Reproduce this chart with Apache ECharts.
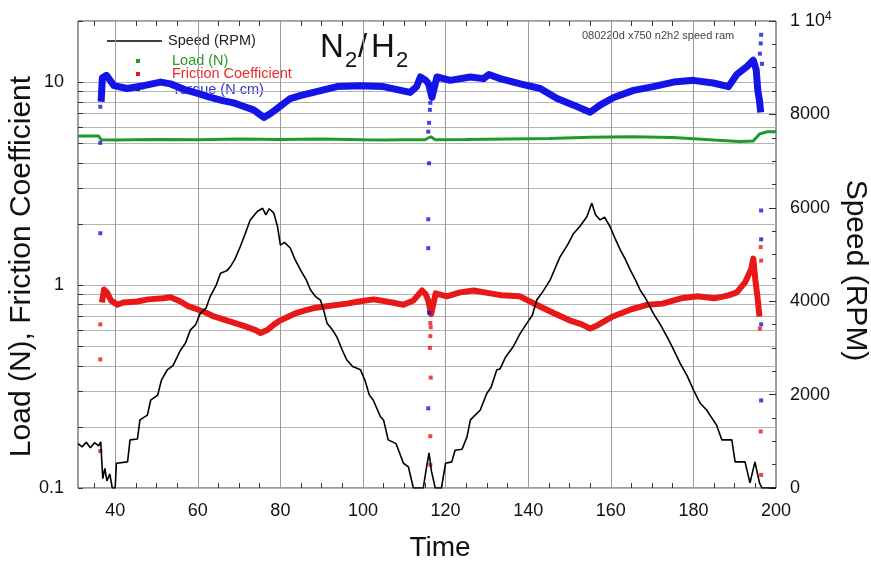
<!DOCTYPE html>
<html><head><meta charset="utf-8">
<script src="https://cdn.jsdelivr.net/npm/echarts@6/dist/echarts.min.js"></script>
<style>html,body{margin:0;padding:0;background:#fff}#c{width:871px;height:564px}</style>
</head><body><div id="c"></div>
<script>
// ---- data ----
const speedT = [31,32,33,34,35,36,36.5,37,37.5,38,38.7,39.3,40,40.3,43,43.6,45.4,46,47.8,48.6,50.3,51.2,52.6,54,55.8,57,58.2,59.5,60.6,62,63,64.5,65.5,67,67.9,69,70.3,71.5,72.7,74.4,75.7,76.5,77.3,78.4,79.3,80,81,82.4,83.5,85,86.3,87.3,88.5,89.7,90.5,91.3,92.5,93.7,95,96.1,97.5,99.4,100.5,101.5,102.5,104.2,105,106.1,108,109.8,111,112.2,114.6,115.3,116,116.6,117.5,119,120,121.5,122.3,124,125.2,126,128.4,130,131,132.4,133.2,134.5,136.4,138,139.7,141,142.1,143.5,145.3,146.5,147.7,149.5,151,152.5,154.2,155.4,156.3,157.4,158.5,159.8,161,162.3,163.5,164.7,166,167.1,168.5,170.3,172,173.6,175,176.8,178.5,180,181.6,183.2,184,185.6,186.9,188,189.3,190.1,192.5,193.7,194.9,196,196.6,200];
const speedRPM = [950,880,980,860,970,900,990,200,420,150,300,0,0,530,560,1030,1050,1460,1560,1880,1990,2310,2530,2620,2950,3100,3380,3500,3740,3850,4100,4350,4600,4650,4740,4900,5170,5450,5740,5920,5990,5850,5980,5890,5600,5200,5260,5140,4900,4650,4450,4240,4100,4025,3800,3530,3400,3230,2950,2740,2600,2530,2300,2000,1880,1530,1450,1030,950,530,450,0,0,400,750,350,0,0,530,560,810,830,1100,1460,1670,2030,2150,2530,2550,2800,3030,3300,3530,3700,4030,4200,4450,4700,4950,5200,5450,5600,5810,6100,5850,5740,5800,5600,5350,5100,4900,4670,4450,4240,4050,3740,3500,3240,3000,2670,2400,2100,1820,1670,1560,1350,1030,1030,1030,560,560,110,560,110,0,0];

const loadT = [31,36,36.6,40,50,60,70,80,90,100,105,110,115,116.4,117.5,125,135,145,155,165,175,185,191,194.5,196,198,200];
const loadN = [5.42,5.42,5.2,5.18,5.22,5.2,5.25,5.22,5.25,5.2,5.18,5.2,5.2,5.38,5.2,5.22,5.25,5.28,5.35,5.38,5.33,5.18,5.1,5.12,5.55,5.7,5.7];

const frictionT = [36.8,37.3,38,39,40.5,42,45.3,48,51.7,53.4,55.8,57.5,59.8,62,63.9,66,67.9,70,72,74,75.2,76.8,78.5,80,82,84,86,88.1,92.1,96.1,99,102.6,104.2,107,109.8,112.2,114.3,115.2,115.8,116.5,117.6,120.3,123.5,126.8,130.8,133.5,138,142,146,150,153,155,156.5,160.5,165,169,172.5,177,181,185,188.5,190.5,192.5,194,194.5,195,195.5,196];
const frictionV = [0.82,0.95,0.92,0.84,0.80,0.82,0.83,0.85,0.86,0.87,0.83,0.79,0.76,0.73,0.70,0.68,0.66,0.64,0.62,0.60,0.58,0.60,0.64,0.67,0.70,0.73,0.75,0.77,0.79,0.81,0.83,0.85,0.84,0.82,0.80,0.84,0.94,0.90,0.84,0.72,0.91,0.88,0.92,0.94,0.91,0.89,0.88,0.80,0.73,0.67,0.64,0.61,0.63,0.70,0.76,0.80,0.81,0.86,0.88,0.86,0.89,0.92,1.03,1.2,1.35,1.06,0.88,0.7];
const frictionOutT = [36.4,36.4,36.4,116.3,116.4,116.3,116.2,116.4,116.3,116.3,196.3,196.4,196.1,196.3,196.4];
const frictionOutV = [0.64,0.43,0.152,0.65,0.62,0.56,0.49,0.35,0.18,0.13,1.54,1.32,0.61,0.19,0.116];

const torqueT = [36.6,36.9,37.9,39.7,42.9,46.9,51,53.4,57.4,60,63.1,66,68.7,71,73.5,76,77.6,79.2,82.4,85,88,93.7,99.3,104.9,108,111.4,113,113.9,115.2,115.9,116.7,117.9,121.1,126,129.2,130.5,133.2,138.1,142.9,147,151,155,157.4,160.7,165.5,170.3,175.2,180,184.8,188.5,190.5,192.9,194.5,195.2,195.6,196,196.3];
const torqueV = [8.0,10.5,10.8,9.6,9.3,9.6,10.0,9.8,9.1,8.8,8.4,8.1,7.9,7.6,7.3,6.7,7.0,7.4,8.3,8.6,8.9,9.5,9.6,9.5,9.2,8.9,9.5,10.6,10.2,9.8,8.4,10.6,10.2,10.6,10.4,10.9,10.4,9.8,9.3,8.3,7.7,7.1,7.7,8.4,9.1,9.5,10.0,10.2,9.9,9.5,10.9,11.9,12.8,11.5,9.1,8.1,7.1];
const torqueOutT = [36.4,36.4,36.4,116.3,116.2,116.0,115.8,116.0,115.8,115.8,116.0,115.8,196.4,196.3,196.1,196.6,196.4,196.4,196.4,196.4];
const torqueOutV = [7.56,5.02,1.8,7.9,7.3,6.3,5.7,3.98,2.11,1.52,0.73,0.247,17.1,15.5,13.8,12.3,2.33,1.68,0.64,0.27];

// ---- ticks ----
const xTickLabels = [40,60,80,100,120,140,160,180,200];
const xTickMarks = [35,40,45,50,55,60,65,70,75,80,85,90,95,100,105,110,115,120,125,130,135,140,145,150,155,160,165,170,175,180,185,190,195];
const xGridLines = [40,60,80,100,120,140,160,180];
const leftTickLabels = [0.1,1,10];
const leftTickMarks = [0.1,0.2,0.3,0.4,0.5,0.6,0.7,0.8,0.9,1,2,3,4,5,6,7,8,9,10,20];
const rightTickLabels = [0,2000,4000,6000,8000,10000];

const zip = (a, b) => a.map((v, i) => [v, b[i]]);
const FONT = '"Liberation Sans", Arial, Helvetica, sans-serif';
const C_SPEED = '#000000', C_LOAD = '#1f9a2a', C_FRIC = '#e81818', C_TORQ = '#1414e6';

const chart = echarts.init(document.getElementById('c'), null, {renderer: 'canvas'});
const xBase = {type: 'value', min: 31, max: 200, axisLine: {show: false}, splitLine: {show: false}};
chart.setOption({
  animation: false,
  backgroundColor: '#ffffff',
  textStyle: {fontFamily: FONT},
  grid: {left: 78, top: 21, width: 698, height: 467, show: true, borderColor: '#3a3a3a', borderWidth: 1,
    backgroundColor: 'transparent', containLabel: false, outerBoundsMode: 'none'},
  xAxis: [
    Object.assign({}, xBase, {
      position: 'bottom',
      axisTick: {show: true, inside: true, length: 5, customValues: xTickMarks, lineStyle: {color: '#333'}},
      axisLabel: {customValues: xTickLabels, fontSize: 18, color: '#111', margin: 14, fontFamily: FONT},
      name: 'Time', nameLocation: 'middle', nameGap: 46, nameMoveOverlap: false,
      nameTextStyle: {fontSize: 28, color: '#111', fontFamily: FONT, padding: [0, 0, 0, 26]}
    }),
    Object.assign({}, xBase, {
      position: 'top',
      axisTick: {show: true, inside: true, length: 5, customValues: xTickMarks, lineStyle: {color: '#333'}},
      axisLabel: {show: false}
    })
  ],
  yAxis: [
    {
      type: 'log', logBase: 10, min: 0.1, max: 20, position: 'left',
      axisLine: {show: false},
      axisTick: {show: true, inside: true, length: 5, customValues: leftTickMarks, lineStyle: {color: '#333'}},
      axisLabel: {customValues: leftTickLabels, fontSize: 18, color: '#111', margin: 14, fontFamily: FONT,
        formatter: v => (v < 0.5 ? '0.1' : String(Math.round(v)))},
      splitLine: {show: true, lineStyle: {color: '#b4b4b4', width: 1}},
      name: 'Load (N), Friction Coefficient', nameLocation: 'middle', nameGap: 41, nameMoveOverlap: false,
      nameTextStyle: {fontSize: 30, color: '#111', fontFamily: FONT, padding: [0, 24, 0, 0]}
    },
    {
      type: 'value', min: 0, max: 10000, interval: 2000, position: 'right',
      axisLine: {show: false},
      axisTick: {show: true, inside: true, length: 7, customValues: rightTickLabels, lineStyle: {color: '#333'}},
      minorTick: {show: true, splitNumber: 4, length: 4, lineStyle: {color: '#333'}},
      axisLabel: {customValues: rightTickLabels, fontSize: 18, color: '#111', margin: 14, fontFamily: FONT,
        formatter: v => (v >= 10000 ? '1 10{sup|4}' : String(v)),
        rich: {sup: {fontSize: 12, verticalAlign: 'top', padding: [0, 0, 8, 0], fontFamily: FONT, color: '#111'}}},
      splitLine: {show: false},
      name: 'Speed (RPM)', nameLocation: 'middle', nameGap: 64, nameRotate: -90, nameMoveOverlap: false,
      nameTextStyle: {fontSize: 30, color: '#111', fontFamily: FONT, padding: [0, 0, 0, 32]}
    }
  ],
  graphic: [
    {type: 'text', z: 0, style: {text: 'N', x: 320, y: 48, fontSize: 33, fontFamily: FONT, fill: '#111', verticalAlign: 'middle'}},
    {type: 'text', z: 0, style: {text: '2', x: 345, y: 61, fontSize: 22, fontFamily: FONT, fill: '#111', verticalAlign: 'middle'}},
    {type: 'text', z: 0, style: {text: '/', x: 358, y: 48, fontSize: 33, fontFamily: FONT, fill: '#111', verticalAlign: 'middle'}},
    {type: 'text', z: 0, style: {text: 'H', x: 371, y: 48, fontSize: 33, fontFamily: FONT, fill: '#111', verticalAlign: 'middle'}},
    {type: 'text', z: 0, style: {text: '2', x: 396, y: 61, fontSize: 22, fontFamily: FONT, fill: '#111', verticalAlign: 'middle'}},
    {type: 'text', z: 0, style: {text: '080220d x750 n2h2 speed ram', x: 582, y: 36, fontSize: 11, fontFamily: FONT, fill: '#444', verticalAlign: 'middle'}},
    {type: 'line', z: 0, shape: {x1: 107, y1: 41, x2: 162, y2: 41}, style: {stroke: '#000', lineWidth: 1.5}},
    {type: 'text', z: 0, style: {text: 'Speed (RPM)', x: 168, y: 41, fontSize: 14.5, fontFamily: FONT, fill: '#222', verticalAlign: 'middle'}},
    {type: 'rect', z: 0, shape: {x: 136, y: 59, width: 4, height: 4}, style: {fill: C_LOAD}},
    {type: 'text', z: 0, style: {text: 'Load (N)', x: 172, y: 61, fontSize: 14.5, fontFamily: FONT, fill: '#2a9a2a', verticalAlign: 'middle'}},
    {type: 'rect', z: 0, shape: {x: 136, y: 72, width: 4, height: 4}, style: {fill: C_FRIC}},
    {type: 'text', z: 0, style: {text: 'Friction Coefficient', x: 172, y: 74, fontSize: 14.5, fontFamily: FONT, fill: '#e82a2a', verticalAlign: 'middle'}},
    {type: 'rect', z: 0, shape: {x: 136, y: 88, width: 4, height: 4}, style: {fill: C_TORQ}},
    {type: 'text', z: 0, style: {text: 'Torque (N cm)', x: 172, y: 90, fontSize: 14.5, fontFamily: FONT, fill: '#3333cc', verticalAlign: 'middle'}}
  ],
  series: [
    {
      name: 'Load (N)', type: 'line', xAxisIndex: 0, yAxisIndex: 0, data: zip(loadT, loadN),
      symbol: 'none', lineStyle: {color: C_LOAD, width: 3}, z: 3,
      markLine: {silent: true, symbol: 'none', z: 1, label: {show: false},
        lineStyle: {color: '#9a9a9a', width: 1, type: 'solid'},
        data: xGridLines.map(v => ({xAxis: v}))}
    },
    {
      name: 'Friction Coefficient', type: 'line', xAxisIndex: 0, yAxisIndex: 0, data: zip(frictionT, frictionV),
      symbol: 'none', lineStyle: {color: C_FRIC, width: 6, join: 'round'}, z: 3
    },
    {
      name: 'Friction Coefficient', type: 'scatter', xAxisIndex: 0, yAxisIndex: 0, data: zip(frictionOutT, frictionOutV),
      symbol: 'rect', symbolSize: 4, itemStyle: {color: C_FRIC}, z: 3
    },
    {
      name: 'Torque (N cm)', type: 'line', xAxisIndex: 0, yAxisIndex: 0, data: zip(torqueT, torqueV),
      symbol: 'none', lineStyle: {color: C_TORQ, width: 7, join: 'round'}, z: 3
    },
    {
      name: 'Torque (N cm)', type: 'scatter', xAxisIndex: 0, yAxisIndex: 0, data: zip(torqueOutT, torqueOutV),
      symbol: 'rect', symbolSize: 4, itemStyle: {color: C_TORQ}, z: 3
    },
    {
      name: 'Speed (RPM)', type: 'line', xAxisIndex: 0, yAxisIndex: 1, data: zip(speedT, speedRPM),
      symbol: 'none', lineStyle: {color: C_SPEED, width: 1.6}, z: 4
    }
  ]
});
</script></body></html>
